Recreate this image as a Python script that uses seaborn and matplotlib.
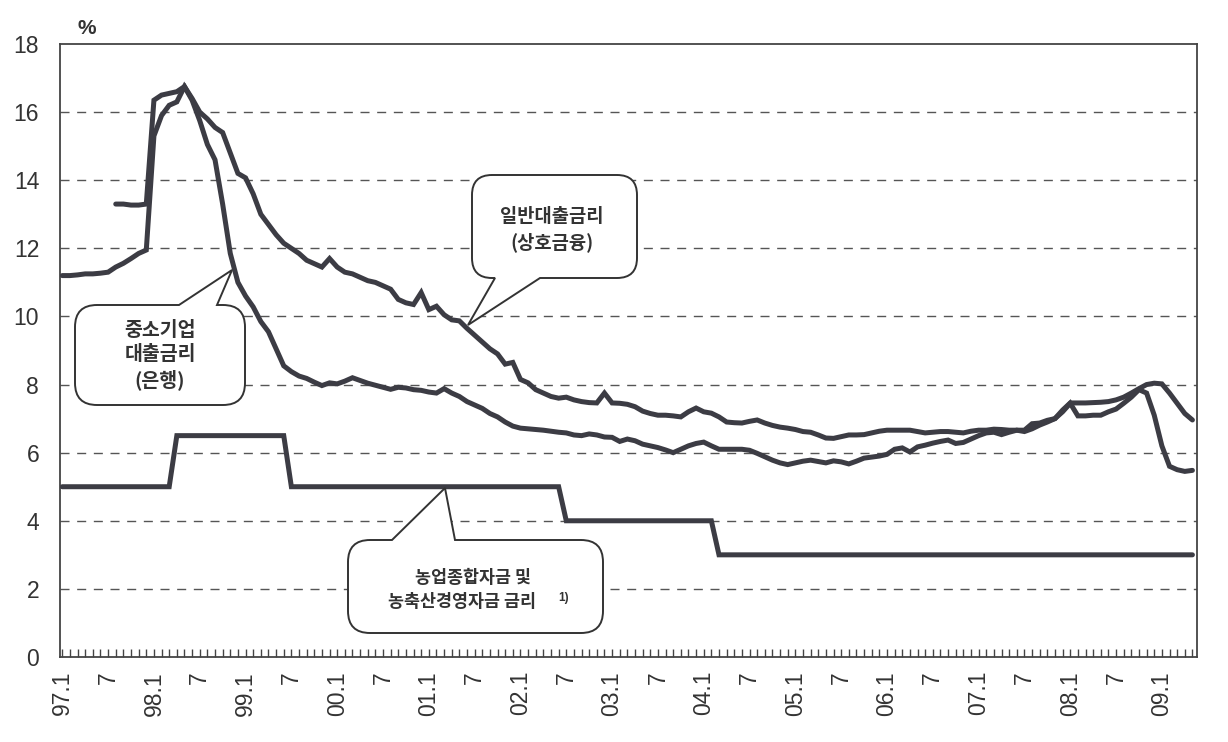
import numpy as np
import pandas as pd
import matplotlib
matplotlib.use('Agg')
import matplotlib.pyplot as plt
import matplotlib.transforms as mtransforms
from matplotlib.path import Path
from matplotlib.patches import PathPatch
import seaborn as sns

# 월별 자료 (1997.1 ~ 2009.5)
months = pd.period_range('1997-01', '2009-05', freq='M')

# 일반대출금리 (상호금융)
general_rate = [
    11.2, 11.2, 11.22, 11.25, 11.25, 11.27, 11.3, 11.45, 11.56, 11.7, 11.85,
    11.95, 15.3, 15.9, 16.2, 16.3, 16.75, 16.4, 16.0, 15.8, 15.55,
    15.4, 14.8, 14.2, 14.07, 13.6, 13.0, 12.7, 12.4, 12.15, 12.0,
    11.85, 11.65, 11.55, 11.45, 11.7, 11.45, 11.3, 11.25, 11.15, 11.05,
    11.0, 10.9, 10.8, 10.5, 10.4, 10.35, 10.7, 10.2, 10.3, 10.05,
    9.9, 9.87, 9.65, 9.45, 9.25, 9.05, 8.9, 8.6, 8.65, 8.15,
    8.05, 7.85, 7.75, 7.65, 7.6, 7.63, 7.55, 7.5, 7.47, 7.46,
    7.75, 7.46, 7.45, 7.42, 7.35, 7.22, 7.15, 7.1, 7.1, 7.08,
    7.05, 7.2, 7.31, 7.2, 7.16, 7.05, 6.9, 6.88, 6.87, 6.92,
    6.96, 6.87, 6.8, 6.75, 6.72, 6.68, 6.62, 6.6, 6.52, 6.43,
    6.42, 6.47, 6.52, 6.52, 6.53, 6.58, 6.63, 6.66, 6.66, 6.66,
    6.66, 6.62, 6.58, 6.6, 6.62, 6.62, 6.6, 6.58, 6.63, 6.66,
    6.66, 6.69, 6.68, 6.66, 6.66, 6.66, 6.85, 6.87, 6.95, 7.0,
    7.25, 7.46, 7.46, 7.46, 7.47, 7.48, 7.5, 7.55, 7.63, 7.75,
    7.88, 8.0, 8.04, 8.02, 7.75, 7.45, 7.15, 6.96,
]

# 중소기업 대출금리 (은행), 1997.8부터
sme_rate = [np.nan] * 7 + [
    13.3, 13.3, 13.27, 13.27,
    13.3, 16.35, 16.5, 16.55, 16.6, 16.75, 16.35, 15.75, 15.05, 14.6,
    13.3, 11.85, 11.0, 10.6, 10.28, 9.85, 9.55, 9.05, 8.55, 8.38,
    8.25, 8.18, 8.07, 7.97, 8.05, 8.02, 8.1, 8.2, 8.12, 8.04,
    7.98, 7.92, 7.86, 7.92, 7.9, 7.85, 7.83, 7.78, 7.75, 7.88,
    7.75, 7.65, 7.5, 7.4, 7.3, 7.15, 7.05, 6.9, 6.78, 6.72,
    6.7, 6.68, 6.66, 6.63, 6.6, 6.58, 6.52, 6.5, 6.55, 6.52,
    6.46, 6.45, 6.33, 6.4, 6.35, 6.25, 6.2, 6.15, 6.08, 6.0,
    6.1, 6.2, 6.27, 6.31, 6.2, 6.1, 6.1, 6.1, 6.1, 6.07,
    5.98, 5.88, 5.78, 5.7, 5.65, 5.7, 5.75, 5.78, 5.74, 5.7,
    5.76, 5.73, 5.67, 5.75, 5.84, 5.87, 5.9, 5.95, 6.1, 6.14,
    6.02, 6.17, 6.22, 6.28, 6.33, 6.37, 6.27, 6.3, 6.4, 6.5,
    6.58, 6.6, 6.53, 6.6, 6.66, 6.62, 6.7, 6.81, 6.9, 7.0,
    7.2, 7.45, 7.08, 7.08, 7.1, 7.1, 7.2, 7.28, 7.45, 7.63,
    7.85, 7.75, 7.1, 6.2, 5.6, 5.5, 5.45, 5.48,
]

# 농업종합자금 및 농축산경영자금 금리
farm_rate = [5.0] * 15 + [6.5] * 15 + [5.0] * 36 + [4.0] * 20 + [3.0] * 63

tick_labels = ['97.1', '7', '98.1', '7', '99.1', '7', '00.1', '7', '01.1', '7',
               '02.1', '7', '03.1', '7', '04.1', '7', '05.1', '7', '06.1', '7',
               '07.1', '7', '08.1', '7', '09.1']

df = pd.DataFrame({'m': np.arange(len(months)),
                   'general': general_rate,
                   'sme': sme_rate,
                   'farm': farm_rate})

sns.set_theme(style='white')
plt.rcParams['font.family'] = ['Liberation Sans', 'Noto Sans CJK KR', 'DejaVu Sans']

W, H = 1228, 742
fig = plt.figure(figsize=(W / 100, H / 100), dpi=100)
ax = fig.add_axes([60 / W, 1 - 657 / H, (1197 - 60) / W, (657 - 44) / H])

line_col = '#3c3c44'
for col in ['farm', 'sme', 'general']:
    sns.lineplot(data=df, x='m', y=col, ax=ax, color=line_col, lw=3.6,
                 solid_joinstyle='miter', zorder=3)

ax.set_xlim(-0.3, 148.6)
ax.set_ylim(0, 18)
ax.set_xlabel('')
ax.set_ylabel('')

# 눈금
ax.set_xticks(np.arange(0, 149, 6))
ax.set_xticklabels(tick_labels, rotation=90, fontsize=16.5, color='#333333')
ax.set_xticks(np.arange(0, 149, 1), minor=True)
ax.tick_params(axis='x', which='both', direction='in', length=6, width=1,
               color='#444444', pad=10, bottom=True)
ax.set_yticks(np.arange(0, 19, 2))
ax.set_yticklabels([str(v) for v in range(0, 19, 2)], fontsize=16.5, color='#333333')
ax.tick_params(axis='y', length=0, pad=15)

for v in range(2, 18, 2):
    ax.axhline(v, color='#555555', lw=1, ls=(0, (6.5, 5.5)), zorder=1)

for s in ax.spines.values():
    s.set_color('#444444')
    s.set_linewidth(1.3)

ax.text(87 / W, 1 - 28 / H, '%', transform=fig.transFigure, fontsize=15,
        ha='center', va='center', color='#333333', fontweight='bold')

# 말풍선 (참조 이미지 픽셀 좌표)
px = mtransforms.Affine2D().scale(1 / W, -1 / H).translate(0, 1) + fig.transFigure


def bubble(x0, y0, x1, y1, r, side, b0, b1, tip):
    verts = [(x0 + r, y0)]
    codes = [Path.MOVETO]
    if side == 'top':
        verts += [(b0, y0), tip, (b1, y0)]
        codes += [Path.LINETO] * 3
    verts += [(x1 - r, y0), (x1, y0), (x1, y0 + r), (x1, y1 - r), (x1, y1), (x1 - r, y1)]
    codes += [Path.LINETO, Path.CURVE3, Path.CURVE3, Path.LINETO, Path.CURVE3, Path.CURVE3]
    if side == 'bottom':
        verts += [(b1, y1), tip, (b0, y1)]
        codes += [Path.LINETO] * 3
    verts += [(x0 + r, y1), (x0, y1), (x0, y1 - r), (x0, y0 + r), (x0, y0), (x0 + r, y0)]
    codes += [Path.LINETO, Path.CURVE3, Path.CURVE3, Path.LINETO, Path.CURVE3, Path.CURVE3]
    verts.append((x0 + r, y0))
    codes.append(Path.CLOSEPOLY)
    p = PathPatch(Path(verts, codes), transform=px, fc='white', ec='#333333',
                  lw=1.4, zorder=5, clip_on=False)
    ax.add_patch(p)


def label(x, y, s, size):
    ax.text(x, y, s, transform=px, ha='center', va='center', fontsize=size,
            fontweight='bold', color='#333333', zorder=6,
            family=['Noto Sans CJK KR', 'DejaVu Sans'])


bubble(75, 305, 245, 405, 22, 'top', 179, 217, (232, 270))
label(160, 331, '중소기업', 14)
label(160, 355, '대출금리', 14)
label(160, 380, '(은행)', 14)

bubble(472, 175, 637, 278, 20, 'bottom', 495, 540, (468, 325))
label(552, 216, '일반대출금리', 13.5)
label(552, 242, '(상호금융)', 13.5)

bubble(348, 540, 603, 633, 22, 'top', 392, 455, (445, 488))
label(473, 578, '농업종합자금 및', 12.5)
label(462, 602, '농축산경영자금 금리', 12.5)
ax.text(564, 598, '1)', transform=px, ha='center', va='center', fontsize=8.5,
        fontweight='bold', color='#333333', zorder=6)

fig.savefig('out.png', dpi=100, facecolor='white')
